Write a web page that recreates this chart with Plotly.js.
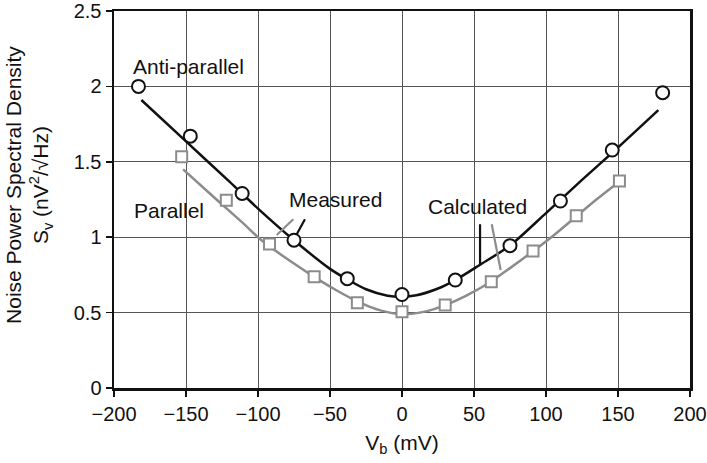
<!DOCTYPE html>
<html>
<head>
<meta charset="utf-8">
<script src="https://cdn.plot.ly/plotly-3.0.1.min.js"></script>
<style>
  html, body { margin: 0; padding: 0; background: #fff; }
  #chart { width: 707px; height: 463px; }
</style>
</head>
<body>
<div id="chart"></div>
<script>
// Bias voltage (mV) and measured noise PSD for the anti-parallel state
const antiVb = [-183, -147, -111, -75, -38, 0, 37, 75, 110, 146, 181];
const antiSv = [2.00, 1.67, 1.29, 0.98, 0.725, 0.62, 0.716, 0.944, 1.24, 1.578, 1.958];

// Measured noise PSD for the parallel state
const paraVb = [-153, -122, -92, -61, -31, 0, 30, 62, 91, 121, 151];
const paraSv = [1.534, 1.245, 0.955, 0.738, 0.566, 0.506, 0.55, 0.705, 0.908, 1.143, 1.373];

// Calculated curves
const antiCalcVb = [-181, -150, -120, -100, -75, -50, -38, -25, -10, 0, 10, 25, 37, 54, 75, 100, 125, 146, 178];
const antiCalcSv = [1.91, 1.635, 1.37, 1.19, 0.98, 0.79, 0.72, 0.655, 0.612, 0.605, 0.615, 0.66, 0.716, 0.816, 0.945, 1.16, 1.38, 1.56, 1.843];

const paraCalcVb = [-152, -130, -110, -100, -90, -75, -60, -45, -30, -15, 0, 15, 30, 45, 60, 75, 90, 105, 120, 135, 151];
const paraCalcSv = [1.45, 1.26, 1.09, 1.0, 0.925, 0.825, 0.73, 0.645, 0.57, 0.515, 0.49, 0.505, 0.55, 0.615, 0.695, 0.795, 0.9, 1.01, 1.13, 1.25, 1.37];

// Tick labels
const xTicks = [-200, -150, -100, -50, 0, 50, 100, 150, 200];
const yTicks = [0, 0.5, 1, 1.5, 2, 2.5];
const yTickText = ['0', '0.5', '1', '1.5', '2', '2.5'];

const BLACK = '#111111';
const GRAY = '#8c8c8c';
const FONT = 'Liberation Sans, Arial, sans-serif';

const traces = [
  { x: paraCalcVb, y: paraCalcSv, mode: 'lines', line: { color: GRAY, width: 2.5, shape: 'spline', smoothing: 0.8 }, hoverinfo: 'skip' },
  { x: antiCalcVb, y: antiCalcSv, mode: 'lines', line: { color: BLACK, width: 2.5, shape: 'spline', smoothing: 0.8 }, hoverinfo: 'skip' },
  { x: paraVb, y: paraSv, mode: 'markers',
    marker: { symbol: 'square', size: 11, color: '#ffffff', line: { color: GRAY, width: 2 } } },
  { x: antiVb, y: antiSv, mode: 'markers',
    marker: { symbol: 'circle', size: 13, color: '#ffffff', line: { color: BLACK, width: 2 } } }
];

const seg = (x0, y0, x1, y1, color) => ({
  type: 'line', xref: 'x', yref: 'y', x0, y0, x1, y1,
  line: { color, width: 2.2 }
});

const label = (text, x, y) => ({
  text, x, y, xref: 'x', yref: 'y', showarrow: false,
  xanchor: 'center', yanchor: 'middle',
  font: { family: FONT, size: 21, color: BLACK }
});

const layout = {
  width: 707, height: 463,
  margin: { l: 114, r: 17, t: 11, b: 75 },
  paper_bgcolor: '#ffffff', plot_bgcolor: '#ffffff',
  showlegend: false,
  font: { family: FONT, size: 21, color: BLACK },
  xaxis: {
    range: [-200, 200], tickvals: xTicks, ticks: 'outside', ticklen: 6, tickwidth: 1.5, tickcolor: BLACK,
    showline: true, linecolor: BLACK, linewidth: 2.5, mirror: true,
    showgrid: true, gridcolor: '#555555', gridwidth: 1, zeroline: false,
    tickfont: { family: FONT, size: 20, color: BLACK },
    title: { text: 'V<sub>b</sub> (mV)', font: { family: FONT, size: 21, color: BLACK }, standoff: 12 }
  },
  yaxis: {
    range: [0, 2.5], tickvals: yTicks, ticktext: yTickText, ticks: 'outside', ticklen: 6, tickwidth: 1.5, tickcolor: BLACK,
    showline: true, linecolor: BLACK, linewidth: 2.5, mirror: true,
    showgrid: true, gridcolor: '#555555', gridwidth: 1, zeroline: false,
    tickfont: { family: FONT, size: 20, color: BLACK }
  },
  shapes: [
    seg(-67.4, 1.119, -73.1, 1.019, BLACK),
    seg(-75.5, 1.119, -87.0, 1.015, GRAY),
    seg(54.2, 1.086, 54.2, 0.816, BLACK),
    seg(62.3, 1.086, 68.5, 0.782, GRAY)
  ],
  annotations: [
    label('Anti-parallel', -148, 2.13),
    label('Parallel', -161.5, 1.176),
    label('Measured', -46.2, 1.247),
    label('Calculated', 52.1, 1.202),
    // Two-line y-axis title, rotated
    { text: 'Noise Power Spectral Density<br>S<sub>v</sub> (nV<sup>2</sup>/√Hz)',
      xref: 'paper', yref: 'paper', x: -0.1476, y: 0.5385,
      xanchor: 'center', yanchor: 'middle', textangle: -90, showarrow: false,
      font: { family: FONT, size: 21, color: BLACK } }
  ]
};

Plotly.newPlot('chart', traces, layout, { displayModeBar: false, staticPlot: true });
</script>
</body>
</html>
